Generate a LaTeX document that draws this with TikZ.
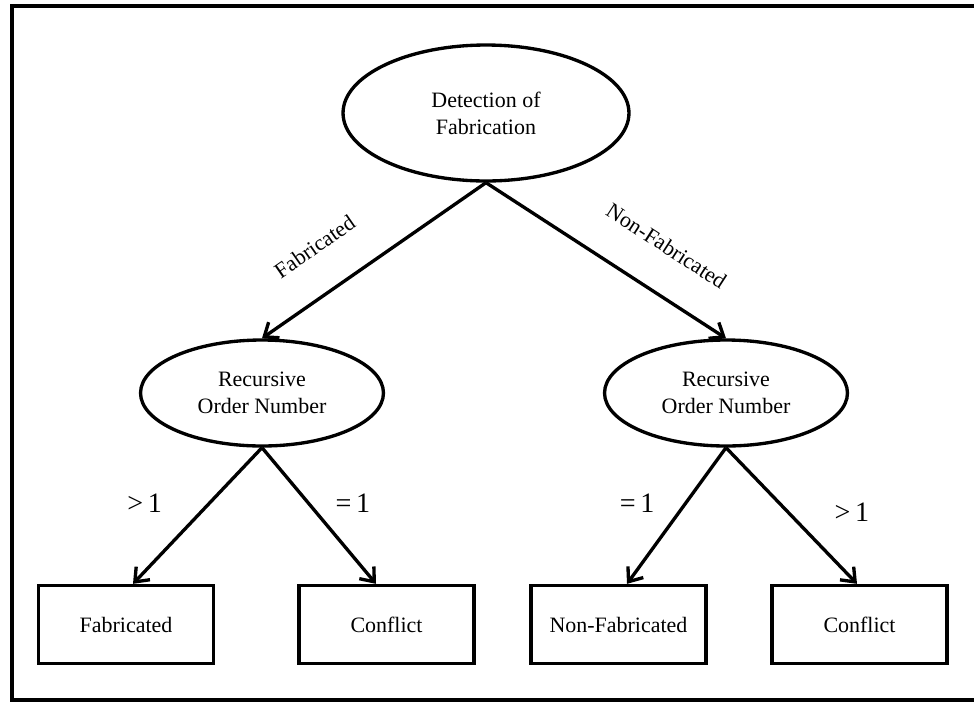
\documentclass[tikz,border=0pt]{standalone}
\usepackage{fontspec}
\setmainfont{Liberation Serif}
\usetikzlibrary{positioning,arrows.meta,shapes}

\tikzset{
  decision/.style={draw, ellipse, line width=1.9pt, inner sep=0pt, align=center,
    font=\fontsize{12.5}{15.3}\selectfont},
  outcome/.style={draw, rectangle, line width=1.9pt, inner sep=0pt,
    minimum width=3.5cm, minimum height=1.56cm, font=\fontsize{12.5}{15.3}\selectfont},
  branch/.style={line width=1.9pt, -{Straight Barb[length=2.4mm,width=3.8mm]}},
  cond/.style={font=\fontsize{16}{19}\selectfont, inner sep=0pt}
}

\begin{document}
\begin{tikzpicture}[x=0.02cm, y=-0.02cm]
%
    \useasboundingbox (0,0) rectangle (974,704);
    \draw[line width=1.9pt] (12,6) rectangle (990,700);
%
    \node[decision, minimum width=5.72cm, minimum height=2.72cm] (root) at (486,113) {Detection of\\Fabrication};
    \node[decision, minimum width=4.86cm, minimum height=2.12cm] (recL) at (262,393) {Recursive\\Order Number};
    \node[decision, minimum width=4.86cm, minimum height=2.12cm] (recR) at (726,393) {Recursive\\Order Number};
%
    \node[outcome] (fabL)  at (126,624.5) {Fabricated};
    \node[outcome] (conL)  at (386.5,624.5) {Conflict};
    \node[outcome] (nfabR) at (618.5,624.5) {Non-Fabricated};
    \node[outcome] (conR)  at (859.5,624.5) {Conflict};
%
    \draw[branch] (root.south) -- node[pos=0.65, sloped, above=0.6cm, font=\fontsize{12.5}{15.3}\selectfont] {Fabricated} (recL.north);
    \draw[branch] (root.south) -- node[pos=0.65, sloped, above=0.6cm, font=\fontsize{12.5}{15.3}\selectfont] {Non-Fabricated} (recR.north);
%
    \draw[branch] (recL.south) -- node[cond, pos=0.646, xshift=-0.68cm, yshift=0.64cm] {>\,1} ([xshift=0.14cm]fabL.north);
    \draw[branch] (recL.south) -- node[cond, pos=0.57, xshift=0.52cm, yshift=0.44cm] {=\,1} ([xshift=-0.21cm]conL.north);
    \draw[branch] (recR.south) -- node[cond, pos=0.58, xshift=-0.63cm, yshift=0.47cm] {=\,1} ([xshift=0.17cm]nfabR.north);
    \draw[branch] (recR.south) -- node[cond, pos=0.71, xshift=0.66cm, yshift=0.64cm] {>\,1} ([xshift=-0.05cm]conR.north);
  \end{tikzpicture}
\end{document}
